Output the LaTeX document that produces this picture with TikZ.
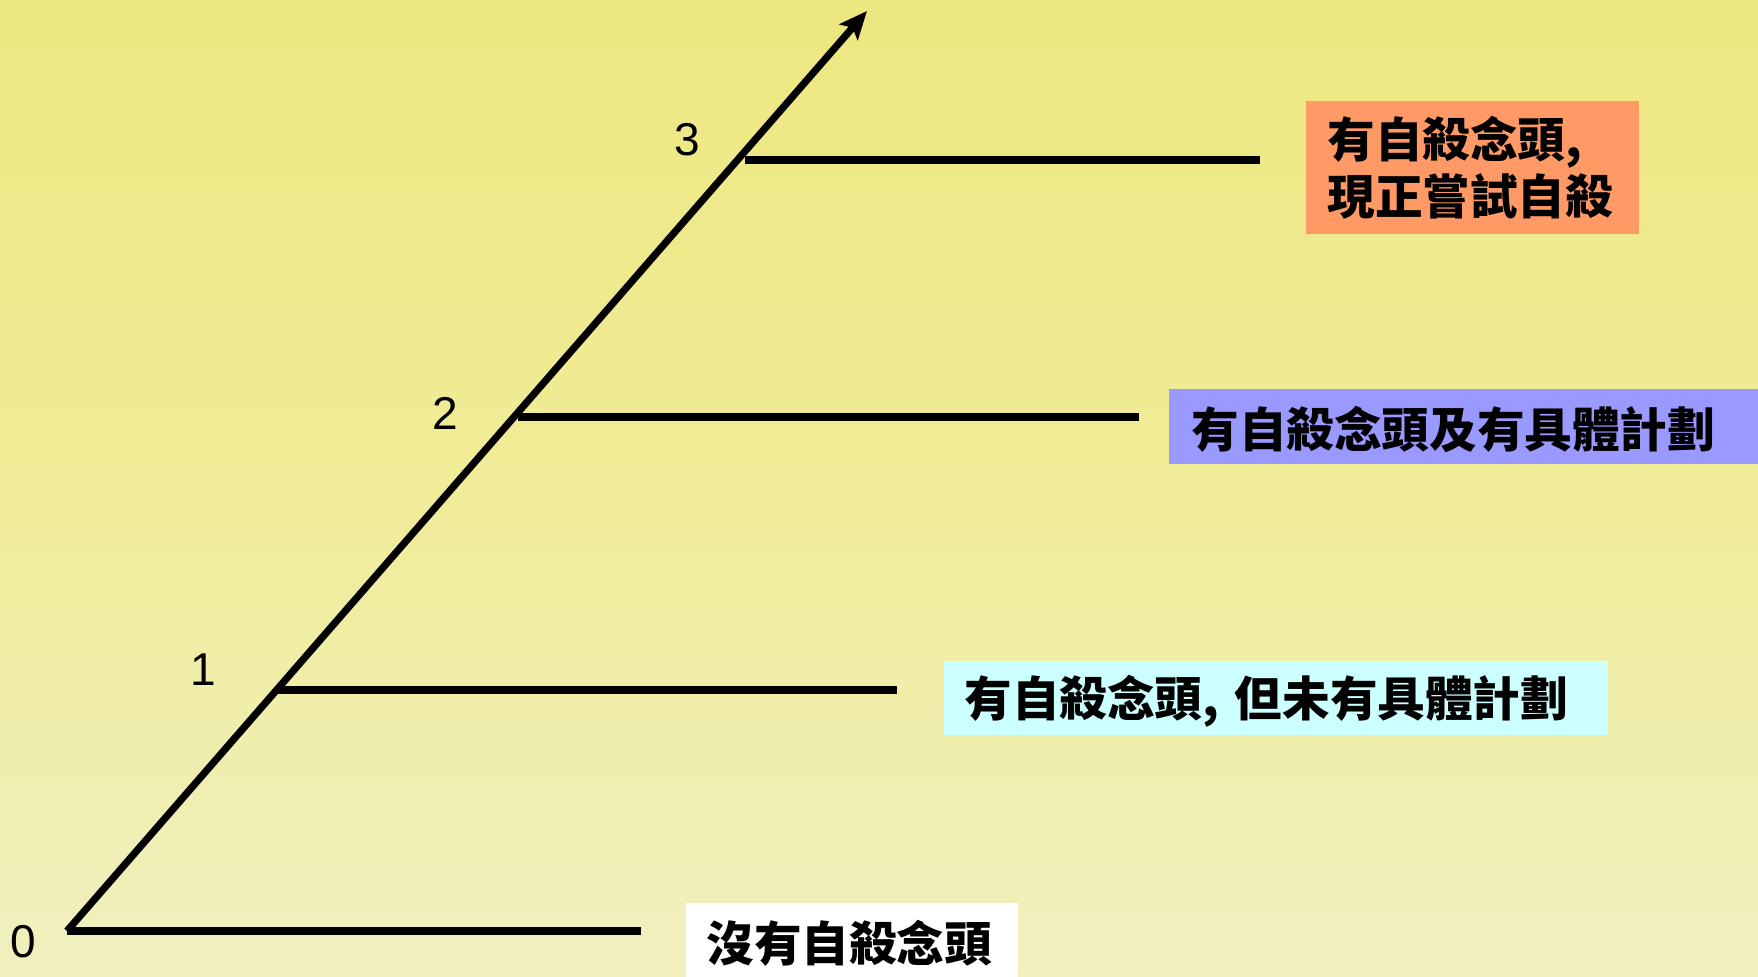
\documentclass[tikz,border=0pt]{standalone}
\usepackage{fontspec}
\setmainfont{Liberation Sans}
\newfontfamily\cjk{Noto Sans CJK TC}
\usetikzlibrary{arrows.meta}
\definecolor{bgtop}{RGB}{237,231,128}
\definecolor{bgmid}{RGB}{240,236,152}
\definecolor{bgbot}{RGB}{240,240,192}
\definecolor{boxorange}{RGB}{255,153,102}
\definecolor{boxblue}{RGB}{153,153,255}
\definecolor{boxcyan}{RGB}{204,255,255}
\tikzset{
  axisline/.style={line width=3.6pt, line cap=butt},
  levelline/.style={line width=3.6pt},
  levelnum/.style={font=\fontsize{23}{27}\selectfont, inner sep=0pt},
  labelbox/.style={anchor=north west, inner ysep=0pt, align=left,
     font=\cjk\bfseries\fontsize{23.8}{28.8}\selectfont},
  onelinebox/.style={labelbox, execute at begin node={\vspace*{-3pt}}}
}
\begin{document}
\begin{tikzpicture}[x=0.5pt,y=-0.5pt]
\shade[top color=bgtop, bottom color=bgbot, middle color=bgmid] (0,0) rectangle (1758,976);
\useasboundingbox (0,0) rectangle (1758,976);
% axis
\coordinate (o) at (67,931);
\coordinate (tip) at (867,11);
\draw[axisline, -{Stealth[length=14pt, width=12pt, inset=3pt]}] (o) -- (tip);
% level lines
\coordinate (h0b) at (641,931);
\coordinate (h1a) at (276,690);
\coordinate (h1b) at (897,690);
\coordinate (h2a) at (518,417);
\coordinate (h2b) at (1139,417);
\coordinate (h3a) at (745,160);
\coordinate (h3b) at (1260,160);
\draw[levelline] (o) -- (h0b);
\draw[levelline] (h1a) -- (h1b);
\draw[levelline] (h2a) -- (h2b);
\draw[levelline] (h3a) -- (h3b);
% numbers
\node[levelnum] (l0) at (23,942) {0};
\node[levelnum] (l1) at (203,670) {1};
\node[levelnum] (l2) at (445,413) {2};
\node[levelnum] (l3) at (687,140) {3};
% boxes
\node[labelbox, fill=boxorange, inner xsep=10.5pt, text width=145.5pt, minimum height=66.5pt] (b3) at (1306,101) {有自殺念頭,\\現正嘗試自殺};
\node[onelinebox, fill=boxblue, inner xsep=11pt, text width=272.5pt, minimum height=37.5pt] (b2) at (1169,389) {有自殺念頭及有具體計劃};
\node[onelinebox, fill=boxcyan, inner xsep=10pt, text width=312pt, minimum height=37pt] (b1) at (944,661) {有自殺念頭, 但未有具體計劃};
\node[onelinebox, fill=white, inner xsep=10pt, text width=146pt, minimum height=37pt] (b0) at (686,903) {沒有自殺念頭};
\end{tikzpicture}
\end{document}
